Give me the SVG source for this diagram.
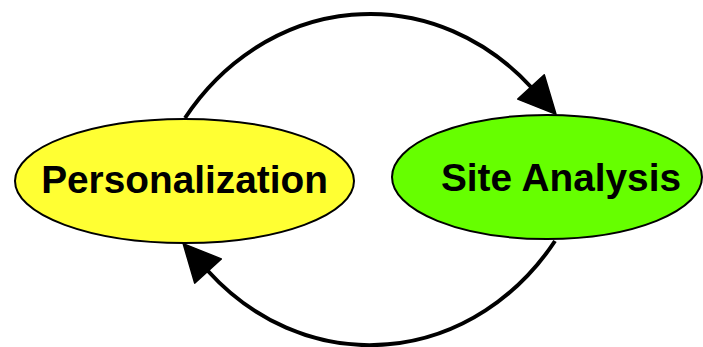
<svg xmlns="http://www.w3.org/2000/svg" width="703" height="347" viewBox="0 0 703 347">
  <style>
    .node { stroke: #000; stroke-width: 2; }
    .label { font-family: "Liberation Sans", Arial, sans-serif; font-weight: bold; font-size: 38.8px; fill: #000; text-anchor: middle; }
    .edge { fill: none; stroke: #000; stroke-width: 4; }
  </style>
  <defs>
    <marker id="arrow" markerUnits="userSpaceOnUse" markerWidth="40" markerHeight="40" viewBox="-2 -2 40 40" refX="0" refY="18" orient="auto">
      <path d="M0,0 L37,18 L0,36 Z" fill="#000" stroke="#000" stroke-width="1.5" stroke-linejoin="round"/>
    </marker>
  </defs>

  <g id="connectors">
    <!-- Personalization -> Site Analysis (over the top) -->
    <path class="edge" d="M185,118 A230,256 0 0 1 531,87" marker-end="url(#arrow)"/>
    <!-- Site Analysis -> Personalization (under the bottom) -->
    <path class="edge" d="M555,241 A230,256 0 0 1 208,271" marker-end="url(#arrow)"/>
  </g>

  <g id="personalization">
    <ellipse class="node" cx="184.5" cy="181" rx="169.5" ry="62" fill="#ffff33"/>
    <text class="label" x="184.5" y="193">Personalization</text>
  </g>

  <g id="site-analysis">
    <ellipse class="node" cx="547" cy="177" rx="155" ry="62" fill="#66ff00"/>
    <text class="label" x="561" y="191">Site Analysis</text>
  </g>
</svg>
